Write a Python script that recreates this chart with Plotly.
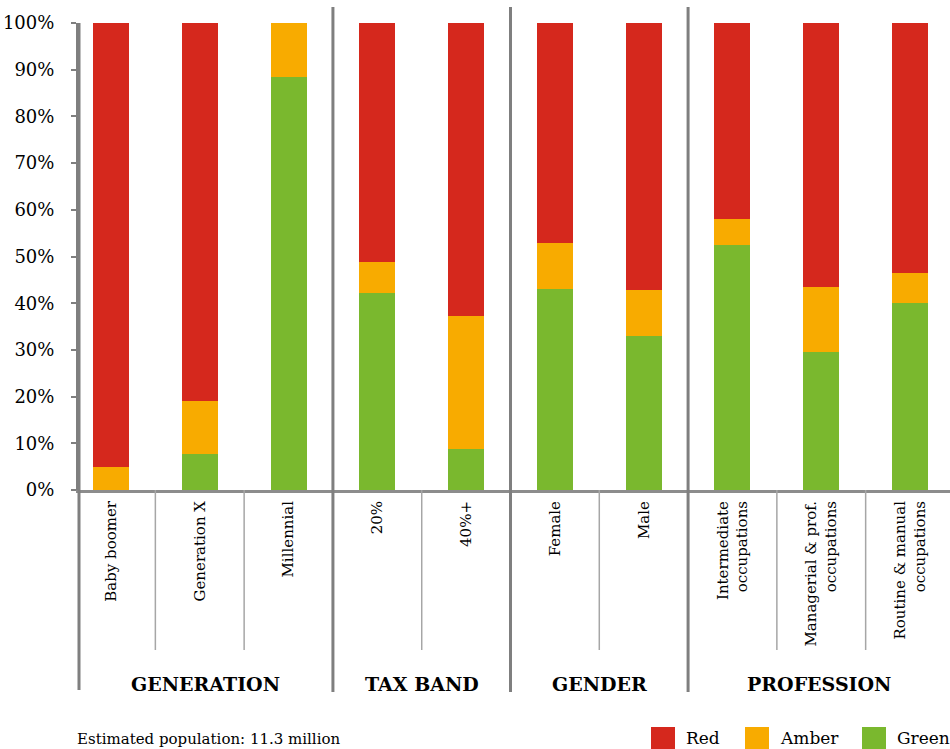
import plotly.graph_objects as go

# ---- data ----
categories = ["Baby boomer", "Generation X", "Millennial", "20%", "40%+",
              "Female", "Male", "Intermediate<br>occupations",
              "Managerial & prof.<br>occupations", "Routine & manual<br>occupations"]
groups = ["GENERATION", "TAX BAND", "GENDER", "PROFESSION"]
group_sizes = [3, 2, 2, 3]
green = [0.0, 7.8, 88.4, 42.2, 8.8, 43.0, 33.0, 52.5, 29.6, 40.0]
amber = [5.0, 11.2, 11.6, 6.6, 28.5, 9.9, 9.8, 5.5, 13.9, 6.5]
red = [95.0, 81.0, 0.0, 51.2, 62.7, 47.1, 57.2, 42.0, 56.5, 53.5]
series_names = ["Red", "Amber", "Green"]
series_colors = ["#D5281D", "#F8AB00", "#7AB82E"]
footnote = "Estimated population: 11.3 million"
yticks = list(range(0, 101, 10))

FONT = "DejaVu Serif"
W, H = 950, 749
ML, MR, MT, MB = 79, 0, 23, 259
plot_w = W - ML - MR
plot_h = H - MT - MB

def py(pix):  # pixel y -> paper y
    return (H - MB - pix) / plot_h

def px(pix):  # pixel x -> paper x
    return (pix - ML) / plot_w

x = list(range(len(categories)))
xr = [-0.36, len(categories) - 0.55]

fig = go.Figure()
for name, vals, col in [("Green", green, series_colors[2]),
                        ("Amber", amber, series_colors[1]),
                        ("Red", red, series_colors[0])]:
    fig.add_trace(go.Bar(x=x, y=vals, name=name, marker_color=col,
                         marker_line_width=0, width=0.405, showlegend=False))

shapes = []
# y axis extension line
shapes.append(dict(type="line", xref="paper", yref="paper", x0=0, x1=0,
                   y0=py(690), y1=1.0, line=dict(color="#7F7F7F", width=3)))
# separators
idx = 0
bounds = []
for gi, n in enumerate(group_sizes):
    start = idx
    for k in range(n - 1):
        shapes.append(dict(type="line", xref="x", yref="paper",
                           x0=idx + k + 0.5, x1=idx + k + 0.5,
                           y0=py(650), y1=0,
                           line=dict(color="#A6A6A6", width=1.5)))
    idx += n
    left = xr[0] if gi == 0 else start - 0.5
    right = xr[1] if gi == len(group_sizes) - 1 else idx - 0.5
    bounds.append((left, right))
    if gi < len(group_sizes) - 1:
        shapes.append(dict(type="line", xref="x", yref="paper",
                           x0=idx - 0.5, x1=idx - 0.5,
                           y0=py(692), y1=py(7),
                           line=dict(color="#7F7F7F", width=3)))

annotations = []
for g, (l, r) in zip(groups, bounds):
    annotations.append(dict(text="<b>%s</b>" % g, x=(l + r) / 2, xref="x",
                            y=py(684), yref="paper", showarrow=False,
                            xanchor="center", yanchor="middle",
                            font=dict(family=FONT, size=19, color="#000")))
annotations.append(dict(text=footnote, x=px(75), xref="paper", y=py(739),
                        yref="paper", showarrow=False, xanchor="left",
                        yanchor="middle",
                        font=dict(family=FONT, size=15, color="#000")))
# legend (manual swatches)
leg_sw = [651, 745, 862]
for name, col, sx in zip(series_names, series_colors, leg_sw):
    shapes.append(dict(type="rect", xref="paper", yref="paper",
                       x0=px(sx), x1=px(sx + 24), y0=py(751), y1=py(727),
                       fillcolor=col, line=dict(width=0)))
    annotations.append(dict(text=name, x=px(sx + 33), xref="paper",
                            y=py(738), yref="paper", showarrow=False,
                            xanchor="left", yanchor="middle",
                            font=dict(family=FONT, size=17, color="#000")))

fig.update_layout(
    width=W, height=H,
    margin=dict(l=ML, r=MR, t=MT, b=MB, pad=0),
    barmode="stack",
    plot_bgcolor="white", paper_bgcolor="white",
    shapes=shapes, annotations=annotations,
    showlegend=False,
    font=dict(family=FONT, color="#000"),
)
fig.update_yaxes(range=[0, 100], tickvals=yticks,
                 ticktext=["%d%%" % v for v in yticks],
                 showgrid=False, zeroline=False, showline=True,
                 linecolor="#7F7F7F", linewidth=3,
                 ticks="outside", ticklen=5, tickwidth=2, tickcolor="#7F7F7F",
                 ticklabelstandoff=13,
                 tickfont=dict(family=FONT, size=18, color="#000"))
fig.update_xaxes(range=xr, tickvals=x, ticktext=categories, tickangle=-90,
                 showgrid=False, zeroline=False, showline=True,
                 linecolor="#8C8C8C", linewidth=3, ticks="",
                 ticklabelstandoff=2,
                 tickfont=dict(family=FONT, size=15, color="#000"))

fig.write_html("out.html", config={"displayModeBar": False},
               post_script="document.body.style.margin='0';"
                           "document.body.style.overflow='hidden';")
